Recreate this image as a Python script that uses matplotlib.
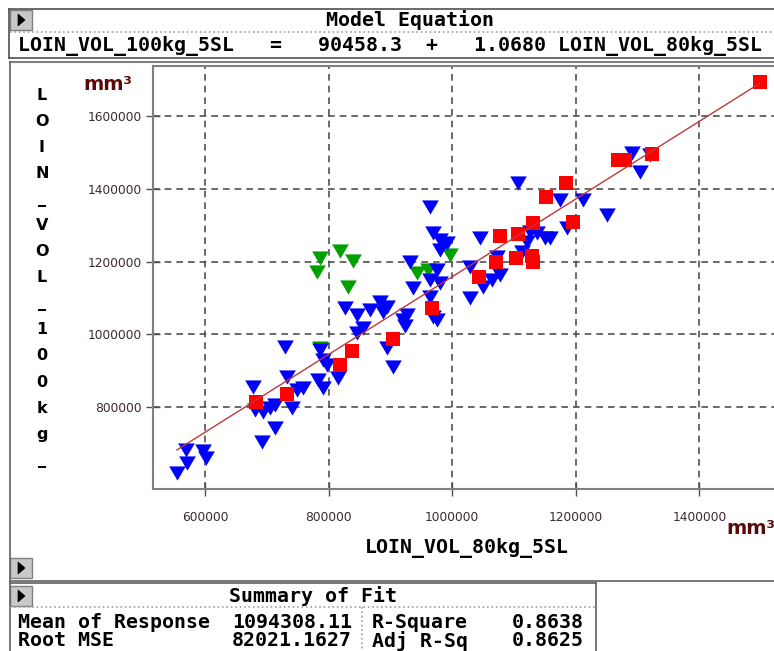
import numpy as np
import matplotlib
matplotlib.use('Agg')
import matplotlib.pyplot as plt
from matplotlib.lines import Line2D
from matplotlib.patches import Rectangle, Polygon

W, H = 774, 651

# ---------------- data ----------------
blue_x = [554700, 569300, 570900, 596800, 601600, 677700, 680900, 693800, 705200, 713300,
          713300, 692200, 729400, 732700, 740800, 748900, 758600, 782800, 790900, 786100,
          790900, 797400, 815200, 826500, 845900, 845900, 855600, 867000, 883200, 888000,
          894500, 894500, 904200, 920400, 926800, 923600, 931700, 936500, 964100, 968900,
          980200, 991600, 980200, 964100, 975400, 980200, 964100, 968900, 975400, 1028800,
          1028800, 1045000, 1049800, 1064400, 1072500, 1077300, 1106400, 1112900, 1121000,
          1125900, 1137200, 1150100, 1158200, 1174400, 1185700, 1211600, 1250400, 1290900,
          1320000, 1303800]
blue_y = [619300, 682500, 646800, 679800, 660500, 855600, 792400, 786900, 797900, 806100,
          743000, 704500, 965400, 883000, 797900, 847300, 852800, 874800, 852800, 957200,
          929700, 916000, 880300, 1072600, 1053300, 1003900, 1017600, 1067100, 1089100, 1061600,
          1075300, 962700, 910500, 1039600, 1053300, 1023100, 1198900, 1127500, 1350000, 1278600,
          1259400, 1251100, 1231900, 1149500, 1176800, 1141300, 1102800, 1047900, 1039600, 1185200,
          1100000, 1264900, 1130300, 1149500, 1212700, 1163200, 1416000, 1226400, 1253900,
          1281300, 1278600, 1264900, 1264900, 1369300, 1292300, 1369300, 1328000, 1498400,
          1492900, 1446200]

green_x = [786100, 781200, 818400, 839500, 831400, 943000, 960800, 996400, 786100]
green_y = [1209900, 1171500, 1229200, 1201700, 1130300, 1168700, 1176800, 1218200, 962700]

red_x = [682500, 732700, 818400, 837800, 904200, 967300, 1043300, 1070800, 1077300, 1103200,
         1106400, 1130700, 1129100, 1130700, 1151700, 1184100, 1195400, 1268200, 1279600,
         1323200, 1498000]
red_y = [814400, 836300, 916000, 954500, 987400, 1072600, 1157700, 1198900, 1270400, 1209900,
         1275900, 1306100, 1215400, 1198900, 1377500, 1416000, 1308800, 1479100, 1479100,
         1495600, 1694000]

intercept = 90458.3
slope = 1.0680

x_ticks = [600000, 800000, 1000000, 1200000, 1400000]
y_ticks = [800000, 1000000, 1200000, 1400000, 1600000]

y_name = "LOIN_VOL_100kg_"
x_name = "LOIN_VOL_80kg_5SL"
equation = "LOIN_VOL_100kg_5SL   =   90458.3  +   1.0680 LOIN_VOL_80kg_5SL"
summary_rows = [("Mean of Response", "1094308.11", "R-Square", "0.8638"),
                ("Root MSE", "82021.1627", "Adj R-Sq", "0.8625")]

# ---------------- figure ----------------
fig = plt.figure(figsize=(W / 100, H / 100), dpi=100)
fig.patch.set_facecolor('white')


def fx(x):
    return x / W


def fy(y):
    return 1 - y / H


def hline(y, x0, x1, color='#707070', lw=1.2, ls='-'):
    fig.add_artist(Line2D([fx(x0), fx(x1)], [fy(y), fy(y)], transform=fig.transFigure,
                          color=color, lw=lw, ls=ls))


def vline(x, y0, y1, color='#707070', lw=1.2, ls='-'):
    fig.add_artist(Line2D([fx(x), fx(x)], [fy(y0), fy(y1)], transform=fig.transFigure,
                          color=color, lw=lw, ls=ls))


def button(x0, y0):
    fig.add_artist(Rectangle((fx(x0), fy(y0 + 20)), 22 / W, 20 / H, transform=fig.transFigure,
                             facecolor='#c8c8c8', edgecolor='#808080', lw=1))
    fig.add_artist(Polygon([(fx(x0 + 8), fy(y0 + 4)), (fx(x0 + 8), fy(y0 + 16)),
                            (fx(x0 + 15), fy(y0 + 10))], closed=True, transform=fig.transFigure,
                           facecolor='black', edgecolor='black', lw=0.5))


mono = dict(family='DejaVu Sans Mono', fontweight='bold', fontsize=14.3, color='black')

# header table
hline(9, 9, 774, color='#505050')
vline(9, 9, 58, color='#505050')
hline(32, 10, 774, color='#a0a0a0', ls=':')
hline(58, 9, 774, color='#505050')
button(10, 10)
fig.text(fx(410), fy(20), "Model Equation", ha='center', va='center', **mono)
fig.text(fx(18), fy(46), equation, ha='left', va='center', **mono)

# plot panel frame
hline(62, 10, 774, color='#808080', lw=1.5)
vline(10, 62, 581, color='#606060')
hline(581, 10, 774, color='#606060')
button(10, 558)

# axes
ax = fig.add_axes([153 / W, 1 - 489 / H, (774 - 153) / W, (489 - 66) / H])
ax.set_xlim(515900, 1520600)
ax.set_ylim(575400, 1737400)
ax.set_xticks(x_ticks)
ax.set_yticks(y_ticks)
ax.set_xticklabels([str(v) for v in x_ticks])
ax.set_yticklabels([str(v) for v in y_ticks])
ax.grid(True, linestyle=(0, (4, 3)), color='#505050', lw=1.2)
ax.set_axisbelow(True)
ax.tick_params(direction='inout', length=10, width=1, color='#505050',
               labelsize=8.8, labelcolor='#3a2a30')
ax.tick_params(axis='x', pad=11)
ax.tick_params(axis='y', pad=3)
for s in ['left', 'bottom', 'top']:
    ax.spines[s].set_color('#808080')
    ax.spines[s].set_linewidth(1.5)
ax.spines['right'].set_visible(False)

tri = [(-1, 0.85), (1, 0.85), (0, -0.85), (-1, 0.85)]
ax.plot(green_x, green_y, ls='none', marker=tri, ms=12, color='#00a000', mew=0, zorder=3)
ax.plot(blue_x, blue_y, ls='none', marker=tri, ms=12, color='#0000ff', mew=0, zorder=4)
ax.plot(red_x, red_y, ls='none', marker='s', ms=9.5, color='#ff0000', mew=0, zorder=5)

all_x = np.array(blue_x + green_x + red_x)
lx = np.array([all_x.min(), all_x.max()])
ax.plot(lx, intercept + slope * lx, color='#c03838', lw=1.0, zorder=6)

# units and axis names
fig.text(fx(83), fy(85), "mm³", ha='left', va='center', fontsize=14, fontweight='bold',
         color='#5a0a0a')
fig.text(fx(726), fy(528), "mm³", ha='left', va='center', fontsize=14, fontweight='bold',
         color='#5a0a0a')
fig.text(fx(467), fy(548), x_name, ha='center', va='center', **mono)
for i, ch in enumerate(y_name):
    fig.text(fx(42), fy(95 + 26.1 * i), ch, ha='center', va='center', fontsize=11.5,
             fontweight='bold', color='black')

# summary table
hline(583, 10, 596, color='#606060')
vline(596, 583, 651, color='#606060')
vline(10, 583, 651, color='#606060')
hline(607, 10, 596, color='#a0a0a0', ls=':')
vline(362, 607, 651, color='#a0a0a0', ls=':')
button(10, 586)
fig.text(fx(313), fy(596), "Summary of Fit", ha='center', va='center', **mono)
for r, (a, b, c, d) in enumerate(summary_rows):
    yy = 622 + 19 * r
    fig.text(fx(18), fy(yy), a, ha='left', va='center', **mono)
    fig.text(fx(352), fy(yy), b, ha='right', va='center', **mono)
    fig.text(fx(372), fy(yy), c, ha='left', va='center', **mono)
    fig.text(fx(584), fy(yy), d, ha='right', va='center', **mono)

fig.savefig('out.png', dpi=100)
